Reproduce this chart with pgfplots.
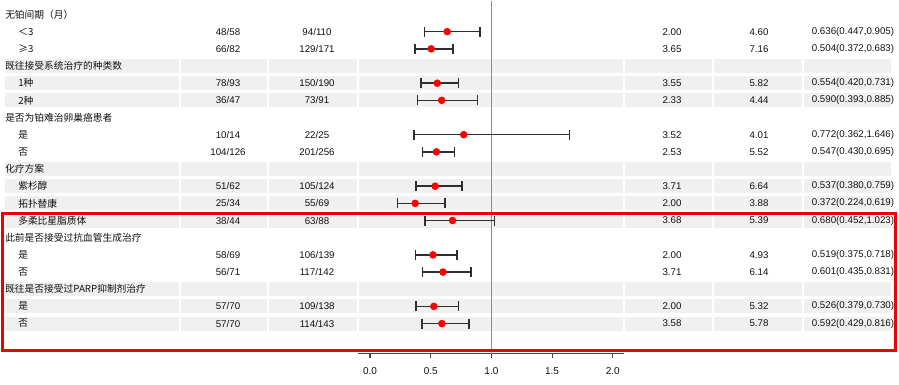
\documentclass[border=0pt]{standalone}
\usepackage{fontspec}
\setmainfont{Liberation Sans}
\newfontfamily\cjk{Noto Sans CJK SC}
\usepackage{pgfplots}
\pgfplotsset{compat=1.18}
\definecolor{band}{HTML}{F0F0F0}
\definecolor{barc}{HTML}{2E2E2E}
\definecolor{axgray}{HTML}{444444}
\definecolor{refgray}{HTML}{8C8C8C}
\definecolor{txt}{HTML}{101010}
\definecolor{boxred}{HTML}{F00000}

\newcommand\ry[1]{{14+17.17*#1}}
\newcommand\hdr[2]{\node[anchor=west,inner sep=0pt,font=\cjk\fontsize{7.3}{8}\selectfont] at (5,\ry{#1}) {#2};}
\newcommand\datarow[7]{%
  \node[anchor=west,inner sep=0pt,font=\cjk\fontsize{7.3}{8}\selectfont] at (18,\ry{#1}) {#2};
  \node[inner sep=0pt] at (228,\ry{#1}) {#3};
  \node[inner sep=0pt] at (317,\ry{#1}) {#4};
  \node[inner sep=0pt] at (672,\ry{#1}) {#5};
  \node[inner sep=0pt] at (759,\ry{#1}) {#6};
  \node[inner sep=0pt] at (853,\ry{#1}) {#7};}

\begin{document}
\begin{tikzpicture}
\begin{scope}[x=0.75pt,y=-0.75pt]
\path (0,0) rectangle (899,384);
\foreach \i in {3,4,5,9,10,11,12,16,17,18}{\fill[band] (5,{14+17.17*\i-7}) rectangle (891,{14+17.17*\i+7});}
\foreach \g in {180,268,357.5,624,713,803}{\fill[white] ({\g-1},0) rectangle ({\g+1},345);}
\end{scope}

\begin{axis}[
  at={(268.5pt,-264.75pt)}, anchor=south west,
  scale only axis, width=199.5pt, height=264.75pt,
  xmin=-0.0988, xmax=2.0923, ymin=-19.744, ymax=0.8154,
  axis y line=none, axis x line*=bottom,
  axis line style={-, axgray, line width=0.9pt},
  xtick={0,0.5,1,1.5,2},
  tick align=outside, major tick length=3pt,
  tick style={axgray, line width=0.8pt},
  xticklabel style={font=\fontsize{7.5}{9}\selectfont, text=txt, yshift=-4pt,
    /pgf/number format/.cd, fixed, fixed zerofill, precision=1, assume math mode=true},
  clip=false,
]
\addplot[refgray, line width=0.75pt] coordinates {(1,0.8154) (1,-19.744)};
\addplot[only marks, mark=*, mark size=2.6pt, color=red,
  error bars/.cd, x dir=both, x explicit, error mark=|,
  error bar style={barc, line width=1.1pt},
  error mark options={barc, line width=1.0pt, mark size=3.75pt}]
coordinates {
(0.636,-1) -= (0.189,0) += (0.269,0)
(0.504,-2) -= (0.132,0) += (0.179,0)
(0.554,-4) -= (0.134,0) += (0.177,0)
(0.590,-5) -= (0.197,0) += (0.295,0)
(0.772,-7) -= (0.410,0) += (0.874,0)
(0.547,-8) -= (0.117,0) += (0.148,0)
(0.537,-10) -= (0.157,0) += (0.222,0)
(0.372,-11) -= (0.148,0) += (0.247,0)
(0.680,-12) -= (0.228,0) += (0.343,0)
(0.519,-14) -= (0.144,0) += (0.199,0)
(0.601,-15) -= (0.166,0) += (0.230,0)
(0.526,-17) -= (0.147,0) += (0.204,0)
(0.592,-18) -= (0.163,0) += (0.224,0)
};
\end{axis}

\begin{scope}[x=0.75pt,y=-0.75pt,font=\fontsize{7.3}{8}\selectfont, text=txt]
\hdr{0}{无铂间期（月）}
\datarow{1}{＜3}{48/58}{94/110}{2.00}{4.60}{0.636(0.447,0.905)}
\datarow{2}{≥3}{66/82}{129/171}{3.65}{7.16}{0.504(0.372,0.683)}
\hdr{3}{既往接受系统治疗的种类数}
\datarow{4}{1种}{78/93}{150/190}{3.55}{5.82}{0.554(0.420,0.731)}
\datarow{5}{2种}{36/47}{73/91}{2.33}{4.44}{0.590(0.393,0.885)}
\hdr{6}{是否为铂难治卵巢癌患者}
\datarow{7}{是}{10/14}{22/25}{3.52}{4.01}{0.772(0.362,1.646)}
\datarow{8}{否}{104/126}{201/256}{2.53}{5.52}{0.547(0.430,0.695)}
\hdr{9}{化疗方案}
\datarow{10}{紫杉醇}{51/62}{105/124}{3.71}{6.64}{0.537(0.380,0.759)}
\datarow{11}{拓扑替康}{25/34}{55/69}{2.00}{3.88}{0.372(0.224,0.619)}
\datarow{12}{多柔比星脂质体}{38/44}{63/88}{3.68}{5.39}{0.680(0.452,1.023)}
\hdr{13}{此前是否接受过抗血管生成治疗}
\datarow{14}{是}{58/69}{106/139}{2.00}{4.93}{0.519(0.375,0.718)}
\datarow{15}{否}{56/71}{117/142}{3.71}{6.14}{0.601(0.435,0.831)}
\hdr{16}{既往是否接受过PARP抑制剂治疗}
\datarow{17}{是}{57/70}{109/138}{2.00}{5.32}{0.526(0.379,0.730)}
\datarow{18}{否}{57/70}{114/143}{3.58}{5.78}{0.592(0.429,0.816)}
\draw[boxred, line width=2.25pt] (2.5,213) rectangle (895,349.5);
\end{scope}
\end{tikzpicture}
\end{document}
